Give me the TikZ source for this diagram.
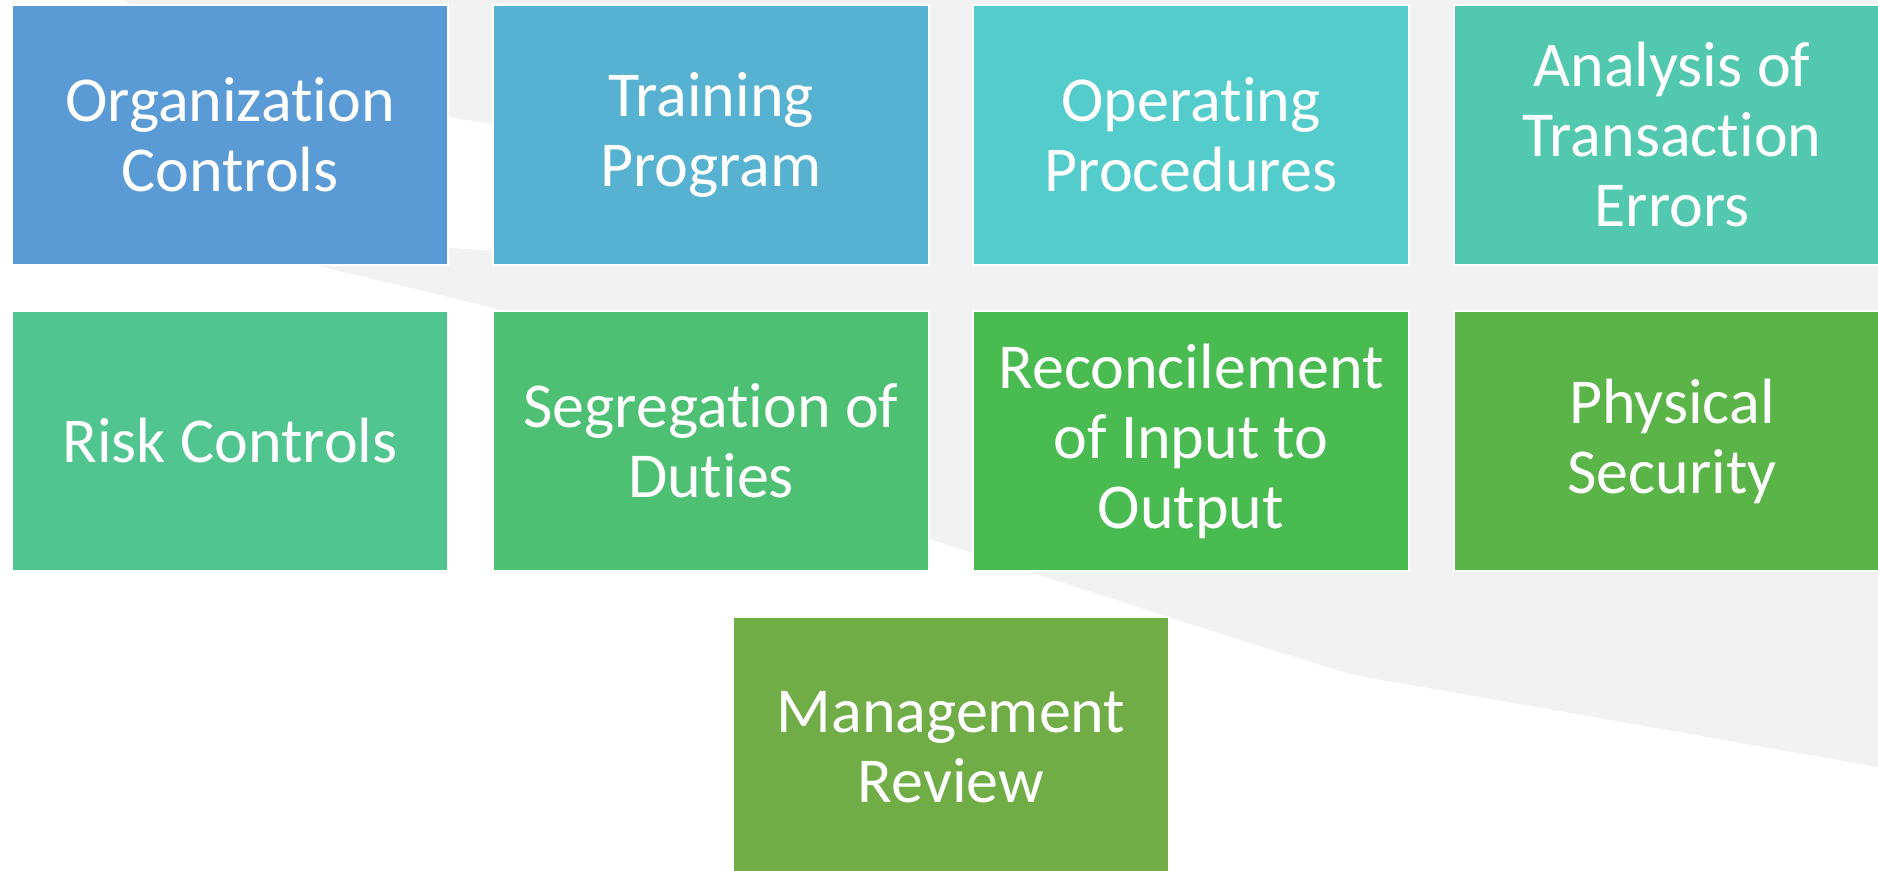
\documentclass[tikz,border=0pt]{standalone}
\usepackage{fontspec}
\setmainfont{Carlito}[Ligatures={NoCommon,NoContextual}]
\tikzset{
  blk/.style={draw=white, line width=0.8pt, minimum width=218pt, minimum height=130pt,
    inner sep=0pt, outer sep=0pt, text=white, align=center,
    font=\fontsize{32}{35}\selectfont}
}
\begin{document}
\begin{tikzpicture}[x=0.5pt,y=0.5pt,yscale=-1,xscale=1]
\path[use as bounding box] (0,0) rectangle (1878,871);
\clip (0,0) rectangle (1878,871);
\fill [color={rgb, 255:red, 255; green, 255; blue, 255 }] (0,0) rectangle (1878,871);
%Shape: Swoosh
\fill [color={rgb, 255:red, 242; green, 242; blue, 242 }] (123,0) .. controls (260,70) and (380,108) .. (448,117)
 .. controls (600,140) and (760,170) .. (880,205) .. controls (720,245) and (580,258) .. (493,251)
 .. controls (420,245) and (330,242) .. (250,250) .. controls (300,262) and (400,285) .. (494,308)
 .. controls (650,380) and (800,480) .. (930,539) -- (1168,617) -- (1330,668)
 .. controls (1360,677) and (1380,680) .. (1400,683) -- (1878,767) -- (1878,0) -- cycle ;
% Text Node
\node [blk, fill={rgb, 255:red, 91; green, 155; blue, 213 }] (orgctl) at (230,135) {Organization\\Controls};
% Text Node
\node [blk, fill={rgb, 255:red, 86; green, 178; blue, 208 }] (train) at (711,135) {Training\\Program};
% Text Node
\node [blk, fill={rgb, 255:red, 85; green, 204; blue, 204 }] (operproc) at (1191,135) {Operating\\Procedures};
% Text Node
\node [blk, fill={rgb, 255:red, 82; green, 200; blue, 174 }] (txerr) at (1672,135) {Analysis of\\Transaction\\Errors};
% Text Node
\node [blk, fill={rgb, 255:red, 80; green, 197; blue, 144 }] (riskctl) at (230,441) {Risk Controls};
% Text Node
\node [blk, fill={rgb, 255:red, 77; green, 192; blue, 115 }] (segduty) at (711,441) {Segregation of\\Duties};
% Text Node
\node [blk, fill={rgb, 255:red, 73; green, 187; blue, 81 }] (recon) at (1191,441) {Reconcilement\\of Input to\\Output};
% Text Node
\node [blk, fill={rgb, 255:red, 91; green, 180; blue, 72 }] (physsec) at (1672,441) {Physical\\Security};
% Text Node
\node [blk, fill={rgb, 255:red, 112; green, 173; blue, 71 }] (mgmtrev) at (951,747) {Management\\Review};
\end{tikzpicture}
\end{document}
